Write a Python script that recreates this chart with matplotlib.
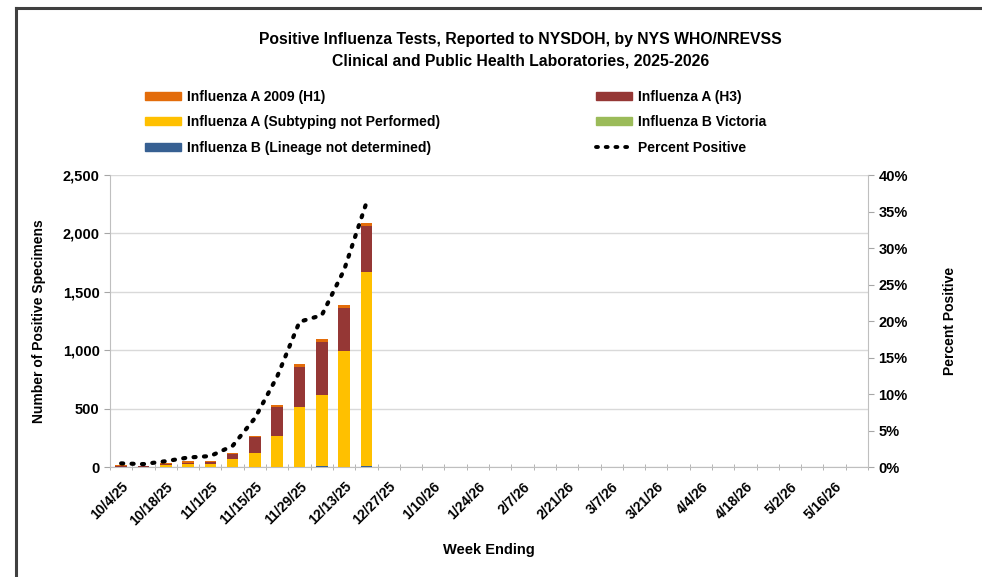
import numpy as np
import matplotlib
matplotlib.use("Agg")
import matplotlib.pyplot as plt
from matplotlib.lines import Line2D
from matplotlib.patches import Patch
from matplotlib.ticker import FuncFormatter, PercentFormatter

plt.rcParams['font.family'] = ['Liberation Sans', 'DejaVu Sans']
plt.rcParams['font.weight'] = 'bold'
plt.rcParams['axes.labelweight'] = 'bold'

# weeks ending 10/4/25 .. 5/23/26
weeks = ['10/4/25', '10/11/25', '10/18/25', '10/25/25', '11/1/25', '11/8/25', '11/15/25',
         '11/22/25', '11/29/25', '12/6/25', '12/13/25', '12/20/25', '12/27/25', '1/3/26',
         '1/10/26', '1/17/26', '1/24/26', '1/31/26', '2/7/26', '2/14/26', '2/21/26',
         '2/28/26', '3/7/26', '3/14/26', '3/21/26', '3/28/26', '4/4/26', '4/11/26',
         '4/18/26', '4/25/26', '5/2/26', '5/9/26', '5/16/26', '5/23/26']

b_lineage = [0, 0, 0, 0, 0, 0, 0, 0, 0, 5, 0, 5]
b_victoria = [0, 0, 0, 0, 0, 0, 0, 0, 0, 0, 0, 0]
a_unsubtyped = [2, 0, 15, 30, 25, 66, 117, 265, 511, 611, 996, 1662]
a_h3 = [8, 10, 12, 8, 15, 47, 136, 248, 348, 457, 368, 394]
a_h1 = [5, 0, 10, 13, 14, 10, 12, 15, 20, 20, 20, 25]
pct_positive = [0.5, 0.4, 0.8, 1.3, 1.5, 2.9, 6.7, 12.4, 19.9, 20.8, 27.0, 36.2]

n = len(weeks)
def pad(v):
    return np.array(v + [0] * (n - len(v)), dtype=float)

series = [
    ('Influenza B (Lineage not determined)', pad(b_lineage), '#376092'),
    ('Influenza B Victoria', pad(b_victoria), '#9BBB59'),
    ('Influenza A (Subtyping not Performed)', pad(a_unsubtyped), '#FFC000'),
    ('Influenza A (H3)', pad(a_h3), '#953735'),
    ('Influenza A 2009 (H1)', pad(a_h1), '#E36C0A'),
]
dots = (0, (0.5, 2.0))

fig = plt.figure(figsize=(9.82, 5.77), dpi=100)
ax = fig.add_axes([0.112, 0.1906, 0.772, 0.506])
x = np.arange(n)
bottom = np.zeros(n)
for name, vals, col in series:
    ax.bar(x, vals, width=0.52, bottom=bottom, color=col, zorder=3)
    bottom += vals

ax.set_xlim(-0.5, n - 0.5)
ax.set_ylim(0, 2500)
ax.set_yticks(np.arange(0, 2501, 500))
ax.yaxis.set_major_formatter(FuncFormatter(lambda v, p: f'{int(v):,}'))
ax.grid(axis='y', color='#d9d9d9', linewidth=1, zorder=0)
ax.set_xticks(x[::2])
ax.set_xticklabels(weeks[::2], rotation=45, ha='right', rotation_mode='anchor', fontsize=10)
ax.set_xticks(np.arange(-0.5, n, 1), minor=True)
ax.tick_params(axis='x', which='major', length=0, pad=9)
ax.tick_params(axis='x', which='minor', length=4, color='#a6a6a6', direction='inout')
ax.tick_params(axis='y', length=4, color='#a6a6a6', labelsize=10.5)
for s in ['top', 'right']:
    ax.spines[s].set_visible(False)
for s in ['left', 'bottom']:
    ax.spines[s].set_color('#bfbfbf')
ax.set_ylabel('Number of Positive Specimens', fontsize=10, labelpad=12)
ax.set_xlabel('Week Ending', fontsize=10.5, labelpad=11)

ax2 = ax.twinx()
ax2.plot(x[:len(pct_positive)], np.array(pct_positive) / 100, color='black', lw=3,
         linestyle=dots, dash_capstyle='round', zorder=5)
ax2.set_ylim(0, 0.40)
ax2.set_yticks(np.arange(0, 0.401, 0.05))
ax2.yaxis.set_major_formatter(PercentFormatter(1.0, decimals=0))
ax2.tick_params(axis='y', length=4, color='#a6a6a6', labelsize=10.5)
for s in ['top', 'left', 'bottom']:
    ax2.spines[s].set_visible(False)
ax2.spines['right'].set_color('#bfbfbf')
ax2.set_ylabel('Percent Positive', fontsize=10, labelpad=25)

fig.text(0.53, 0.932, 'Positive Influenza Tests, Reported to NYSDOH, by NYS WHO/NREVSS',
         ha='center', va='center', fontsize=11.3)
fig.text(0.53, 0.894, 'Clinical and Public Health Laboratories, 2025-2026',
         ha='center', va='center', fontsize=11.3)

handles = [Patch(color='#E36C0A'), Patch(color='#FFC000'), Patch(color='#376092'),
           Patch(color='#953735'), Patch(color='#9BBB59'),
           Line2D([0], [0], color='black', lw=2.8, linestyle=dots, dash_capstyle='round')]
labels = ['Influenza A 2009 (H1)', 'Influenza A (Subtyping not Performed)',
          'Influenza B (Lineage not determined)', 'Influenza A (H3)',
          'Influenza B Victoria', 'Percent Positive']
fig.legend(handles, labels, ncol=2, loc='upper left', bbox_to_anchor=(0.135, 0.866),
           frameon=False, fontsize=10, handlelength=2.6, handleheight=0.5,
           columnspacing=11.2, labelspacing=0.82, handletextpad=0.45)

fig.add_artist(Line2D([0.016, 1.0], [0.986, 0.986], color='#404040', lw=2.2,
                      transform=fig.transFigure))
fig.add_artist(Line2D([0.016, 0.016], [0.0, 0.986], color='#404040', lw=2.2,
                      transform=fig.transFigure))

fig.savefig('out.png', dpi=100)
